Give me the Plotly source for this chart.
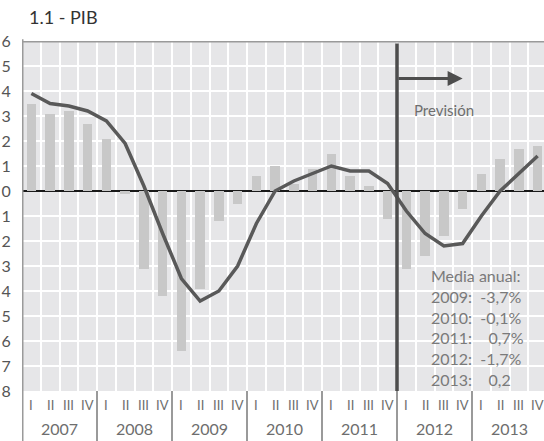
import plotly.graph_objects as go

# datos trimestrales (tasa de variacion del PIB, %)
years = ['2007', '2008', '2009', '2010', '2011', '2012', '2013']
quarters = ['I', 'II', 'III', 'IV']

bars = [3.5, 3.1, 3.2, 2.7,
        2.1, -0.1, -3.1, -4.2,
        -6.4, -3.9, -1.2, -0.5,
        0.6, 1.0, 0.3, 0.9,
        1.5, 0.6, 0.2, -1.1,
        -3.1, -2.6, -1.8, -0.7,
        0.7, 1.3, 1.7, 1.8]

line = [3.9, 3.5, 3.4, 3.2,
        2.8, 1.9, 0.2, -1.7,
        -3.5, -4.4, -4.0, -3.0,
        -1.3, 0.0, 0.4, 0.7,
        1.0, 0.8, 0.8, 0.3,
        -0.8, -1.7, -2.2, -2.1,
        -1.0, 0.0, 0.7, 1.4]

yticks = [6, 5, 4, 3, 2, 1, 0, -1, -2, -3, -4, -5, -6, -7, -8]
# en el original el signo menos queda recortado en el borde: solo se ve la cifra
ylabels = ['6', '5', '4', '3', '2', '1', '0', '1', '2', '3', '4', '5', '6', '7', '8']

avg_years = ['2009', '2010', '2011', '2012', '2013']
avg_vals = ['-3,7%', '-0,1%', '0,7%', '-1,7%', '0,2']

forecast_start = 20  # primer trimestre de prevision (2012 I)

FONT = 'Lato'
GREY = '#6e6e6e'
NB = '\u00a0'

nq = len(bars)
xq = list(range(nq))
xmax = -0.5 + 522 / 18.75

fig = go.Figure()
fig.add_trace(go.Bar(x=xq, y=bars, width=0.5, marker=dict(color='#c8c8c8', line=dict(width=0)),
                     hoverinfo='skip'))
fig.add_trace(go.Scatter(x=xq, y=line, mode='lines', line=dict(color='#595959', width=3.5),
                         hoverinfo='skip'))

shapes = []
# borde superior e izquierdo
shapes.append(dict(type='line', xref='x', yref='y', x0=-0.5, x1=xmax, y0=6, y1=6,
                   line=dict(color='#9a9a9a', width=3)))
shapes.append(dict(type='line', xref='x', yref='paper', x0=-0.5, x1=-0.5, y0=-0.16, y1=1.005,
                   line=dict(color='#9a9a9a', width=3)))
# separadores de anos
for k in range(1, len(years)):
    shapes.append(dict(type='line', xref='x', yref='paper', x0=4 * k - 0.5, x1=4 * k - 0.5,
                       y0=-0.16, y1=0, line=dict(color='#9a9a9a', width=2)))
# linea de prevision
shapes.append(dict(type='line', xref='x', yref='y', x0=forecast_start - 0.5, x1=forecast_start - 0.5,
                   y0=-8, y1=5.9, line=dict(color='#4d4d4d', width=3.5), layer='above'))

annotations = []
annotations.append(dict(text='1.1 - PIB', xref='paper', yref='paper', x=0.0096, y=1,
                        xanchor='left', yanchor='middle', yshift=24, showarrow=False,
                        font=dict(family=FONT, size=18, color='#333333')))
for i in range(nq):
    annotations.append(dict(text=quarters[i % 4], xref='x', yref='paper', x=i, y=0,
                            yanchor='middle', yshift=-14, showarrow=False,
                            font=dict(family=FONT, size=13, color=GREY)))
for k, yr in enumerate(years):
    annotations.append(dict(text=yr, xref='x', yref='paper', x=4 * k + 1.5, y=0,
                            yanchor='middle', yshift=-37, showarrow=False,
                            font=dict(family=FONT, size=16, color=GREY)))
# flecha y texto de prevision
annotations.append(dict(text='', xref='x', yref='y', axref='x', ayref='y',
                        x=23.0, y=4.5, ax=forecast_start - 0.5, ay=4.5, showarrow=True,
                        arrowhead=2, arrowsize=1, arrowwidth=3, arrowcolor='#4d4d4d'))
annotations.append(dict(text='Previsión', xref='x', yref='y', x=22.0, y=3.26, showarrow=False,
                        font=dict(family=FONT, size=15, color=GREY)))
avg_lines = ['Media anual:']
for a, v in zip(avg_years, avg_vals):
    pad = NB * 2 if v.startswith('-') else NB * 4
    avg_lines.append(a + ':' + pad + v)
annotations.append(dict(text='<br>'.join(avg_lines), xref='x', yref='y', x=(429 - 22) / 18.75 - 0.5,
                        y=-5.44, xanchor='left', yanchor='middle', align='left', showarrow=False,
                        font=dict(family=FONT, size=16, color='#7a7a7a')))

fig.update_layout(
    width=544, height=441,
    margin=dict(l=22, r=0, t=41, b=50, autoexpand=False),
    paper_bgcolor='white', plot_bgcolor='#e6e6e8',
    showlegend=False, bargap=0,
    shapes=shapes, annotations=annotations,
    xaxis=dict(range=[-0.5, xmax], tickvals=[k - 0.5 for k in range(1, nq)],
               showticklabels=False, showgrid=True, gridcolor='white', gridwidth=2,
               zeroline=False, showline=False, fixedrange=True, automargin=False),
    yaxis=dict(range=[-8, 6], tickvals=yticks, ticktext=ylabels,
               showgrid=True, gridcolor='white', gridwidth=2,
               zeroline=True, zerolinecolor='#1a1a1a', zerolinewidth=2,
               ticks='outside', ticklen=7, tickcolor='rgba(0,0,0,0)',
               tickfont=dict(family=FONT, size=16, color='#555555'),
               showline=False, fixedrange=True, automargin=False),
)

fig.write_html("out.html", config={'displayModeBar': False},
               post_script="document.body.style.margin='0';document.body.style.overflow='hidden';")
